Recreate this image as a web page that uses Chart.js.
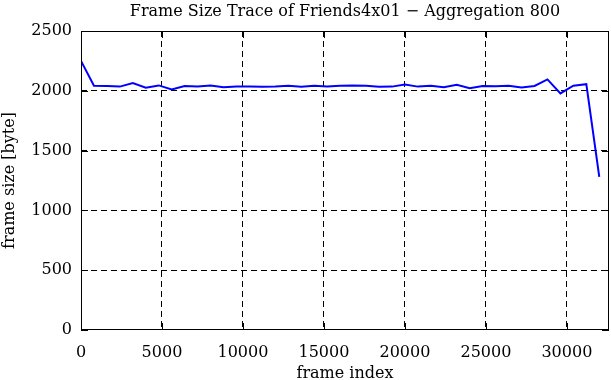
<!DOCTYPE html>
<html>
<head>
<meta charset="utf-8">
<script src="https://cdn.jsdelivr.net/npm/chart.js@4/dist/chart.umd.min.js"></script>
<style>
  html, body { margin: 0; padding: 0; background: #fff; }
</style>
</head>
<body>
<canvas id="trace" width="611" height="380"></canvas>
<script>
const TITLE = 'Frame Size Trace of Friends4x01 \u2212 Aggregation 800';
const X_LABEL = 'frame index';
const Y_LABEL = 'frame size [byte]';

// frame index (aggregation window start) and mean frame size
const frameIndex = [0, 800, 1600, 2400, 3200, 4000, 4800, 5600, 6400, 7200,
    8000, 8800, 9600, 10400, 11200, 12000, 12800, 13600, 14400, 15200,
    16000, 16800, 17600, 18400, 19200, 20000, 20800, 21600, 22400, 23200,
    24000, 24800, 25600, 26400, 27200, 28000, 28800, 29600, 30400, 31200, 32000];
const frameSize = [2250, 2042, 2040, 2035, 2065, 2025, 2045, 2012, 2040, 2035,
    2045, 2030, 2035, 2035, 2033, 2035, 2043, 2033, 2043, 2035,
    2043, 2045, 2043, 2033, 2035, 2052, 2035, 2043, 2030, 2050,
    2022, 2040, 2038, 2043, 2028, 2040, 2095, 1978, 2043, 2055, 1280];

const xTicks = [0, 5000, 10000, 15000, 20000, 25000, 30000];
const yTicks = [0, 500, 1000, 1500, 2000, 2500];
const X_MAX = 32600;

const SERIF = '"DejaVu Serif", "Liberation Serif", serif';
const FONT_SIZE = 16;

// gnuplot-ish box: solid border, inward ticks on all four sides, title over plot area
const framePlugin = {
    id: 'frame',
    afterDraw(chart) {
        const { ctx, chartArea: a, scales: { x, y } } = chart;
        ctx.save();
        ctx.strokeStyle = '#000';
        ctx.lineWidth = 1;
        ctx.setLineDash([]);
        ctx.strokeRect(a.left + 0.5, a.top + 0.5, a.right - a.left - 1, a.bottom - a.top - 1);
        const len = 7;
        ctx.beginPath();
        xTicks.forEach(v => {
            const px = Math.round(x.getPixelForValue(v)) + 0.5;
            ctx.moveTo(px, a.bottom); ctx.lineTo(px, a.bottom - len);
            ctx.moveTo(px, a.top); ctx.lineTo(px, a.top + len);
        });
        yTicks.forEach(v => {
            const py = Math.round(y.getPixelForValue(v)) + 0.5;
            ctx.moveTo(a.left, py); ctx.lineTo(a.left + len, py);
            ctx.moveTo(a.right, py); ctx.lineTo(a.right - len, py);
        });
        ctx.stroke();

        ctx.fillStyle = '#000';
        ctx.font = FONT_SIZE + 'px ' + SERIF;
        ctx.textAlign = 'center';
        ctx.textBaseline = 'middle';
        ctx.fillText(TITLE, (a.left + a.right) / 2, 12);
        ctx.restore();
    }
};

// no dashed grid line on top of the solid frame
const gridColor = (edge) => (c) => (c.tick && edge.includes(c.tick.value) ? 'rgba(0,0,0,0)' : '#000');

new Chart(document.getElementById('trace'), {
    type: 'line',
    data: {
        datasets: [{
            data: frameIndex.map((f, i) => ({ x: f, y: frameSize[i] })),
            borderColor: '#0000ff',
            borderWidth: 2,
            pointRadius: 0,
            tension: 0,
            fill: false,
        }],
    },
    options: {
        responsive: false,
        animation: false,
        devicePixelRatio: 1,
        layout: { padding: { top: 31, right: 2, left: 0, bottom: 0 } },
        plugins: { legend: { display: false }, tooltip: { enabled: false } },
        scales: {
            x: {
                type: 'linear',
                min: 0, max: X_MAX,
                afterBuildTicks: s => { s.ticks = xTicks.map(v => ({ value: v })); },
                afterFit: s => { s.height = 50; },
                grid: { color: gridColor([0]), drawTicks: false, lineWidth: 1 },
                border: { display: false, dash: [6, 4] },
                ticks: { color: '#000', padding: 13, maxRotation: 0, callback: v => String(v),
                         font: { family: SERIF, size: FONT_SIZE } },
                title: { display: true, text: X_LABEL, color: '#000', padding: { top: 0, bottom: -3 },
                         font: { family: SERIF, size: FONT_SIZE } },
            },
            y: {
                min: 0, max: 2500,
                afterBuildTicks: s => { s.ticks = yTicks.map(v => ({ value: v })); },
                afterFit: s => { s.width = 81; },
                grid: { color: gridColor([0, 2500]), drawTicks: false, lineWidth: 1 },
                border: { display: false, dash: [6, 4] },
                ticks: { color: '#000', padding: 9, callback: v => String(v),
                         font: { family: SERIF, size: FONT_SIZE } },
                title: { display: true, text: Y_LABEL, color: '#000', padding: { top: 0, bottom: 0 },
                         font: { family: SERIF, size: FONT_SIZE } },
            },
        },
    },
    plugins: [framePlugin],
});
</script>
</body>
</html>
